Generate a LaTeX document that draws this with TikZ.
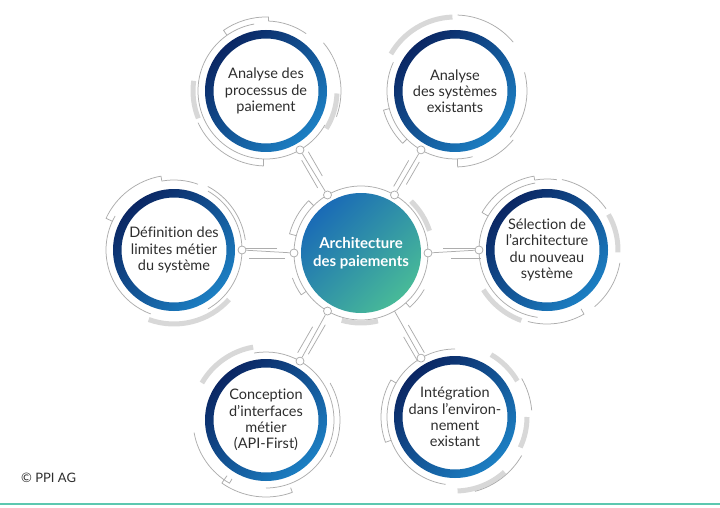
\documentclass[tikz,border=0pt]{standalone}
\usepackage{fontspec}
\setmainfont{Lato}[Ligatures=CommonOff]
\definecolor{textgrey}{HTML}{2E2E2E}
\definecolor{linegrey}{HTML}{ADADAD}
\definecolor{lightgrey}{HTML}{D8D8D8}
\definecolor{ringnavy}{HTML}{0A2663}
\definecolor{ringblue}{HTML}{1C7FC3}
\definecolor{discblue}{HTML}{1A6BB6}
\definecolor{discteal}{HTML}{48BA98}
\definecolor{footteal}{HTML}{5CC8B0}
\tikzset{
  satlabel/.style={align=center, font=\fontsize{14.5}{16.2}\selectfont, text=textgrey, inner sep=0pt},
  hublabel/.style={align=center, font=\bfseries\fontsize{15}{17.5}\selectfont, text=white, inner sep=0pt},
  trace/.style={draw=linegrey, line width=0.75pt},
  band/.style={draw=lightgrey, line width=5pt},
  dot/.style={circle, draw=linegrey, fill=white, line width=0.75pt, minimum size=8pt, inner sep=0pt},
}
\begin{document}
\begin{tikzpicture}[x=1pt, y=1pt, line join=round]
	\fill[white] (0,0) rectangle (720,507);
	\useasboundingbox (0,0) rectangle (720,507);
	\coordinate (c) at (361,254);
	\coordinate (s1) at (266,416);
	\coordinate (s2) at (455,416);
	\coordinate (s3) at (547,257);
	\coordinate (s4) at (174,257);
	\coordinate (s5) at (266,87);
	\coordinate (s6) at (455,90);
	% hub decoration
	\begin{scope}[shift={(c)}]
		\draw[trace] (0,0) circle (67);
		\draw[band] (18:72) arc (18:46:72);
		\draw[band] (254:70) arc (254:284:70);
		\draw[trace] (165:67) -- (165:74) arc (165:135:74) -- (135:67);
		\draw[trace] (215:67) -- (215:73) arc (215:200:73);
		\draw[trace] (330:73) arc (330:312:73) -- (312:67);
	\end{scope}
	% satellite decorations
	\begin{scope}[shift={(s1)}]
		\draw[trace] (100:68) arc (100:330:68);
		\draw[trace] (125:68) -- (125:74) arc (125:88:74) -- (88:70) arc (88:55:70);
		\draw[trace] (40:75) arc (40:-20:75);
		\draw[band] (172:73) arc (172:202:73);
		\draw[band] (-2:71) arc (-2:-32:71);
		\draw[trace] (205:75) arc (205:268:75) -- (268:68);
	\end{scope}
	\begin{scope}[shift={(s2)}]
		\draw[trace] (155:68) arc (155:285:68);
		\draw[band] (92:74) arc (92:150:74);
		\draw[trace] (88:76) arc (88:40:76);
		\draw[trace] (15:72) arc (15:-40:72);
		\draw[trace] (-40:76) arc (-40:-88:76) -- (-88:68);
		\draw[trace] (195:68) -- (195:74) arc (195:225:74) -- (225:68);
	\end{scope}
	\begin{scope}[shift={(s3)}]
		\draw[trace] (100:68) arc (100:262:68);
		\draw[band] (30:71) arc (30:-2:71);
		\draw[band] (212:75) arc (212:250:75);
		\draw[trace] (150:68) -- (150:75) arc (150:100:75) -- (100:71) arc (100:82:71);
		\draw[trace] (78:72) arc (78:35:72);
		\draw[trace] (255:74) arc (255:300:74) -- (300:68);
		\draw[trace] (-10:74) arc (-10:-50:74);
	\end{scope}
	\begin{scope}[shift={(s4)}]
		\draw[trace] (-60:68) arc (-60:60:68);
		\draw[trace] (150:68) arc (150:250:68);
		\draw[band] (250:74) arc (250:318:74);
		\draw[trace] (155:68) -- (155:75) arc (155:100:75) -- (100:70) arc (100:70:70);
		\draw[trace] (62:72) arc (62:8:72);
	\end{scope}
	\begin{scope}[shift={(s5)}]
		\draw[trace] (-90:68) arc (-90:100:68);
		\draw[band] (100:74) arc (100:150:74);
		\draw[trace] (190:73) arc (190:240:73) -- (240:68);
		\draw[trace] (235:68) -- (235:77) arc (235:290:77) -- (290:72);
		\draw[trace] (30:74) arc (30:-30:74);
	\end{scope}
	\begin{scope}[shift={(s6)}]
		\draw[trace] (90:68) arc (90:262:68);
		\draw[band] (60:72) arc (60:30:72);
		\draw[band] (0:72) arc (0:-25:72);
		\draw[band] (272:74) arc (272:312:74);
		\draw[trace] (150:68) -- (150:74) arc (150:200:74) -- (200:68);
		\draw[trace] (30:77) arc (30:5:77);
		\draw[trace] (-30:77) arc (-30:-75:77);
	\end{scope}
	% rings and hub disc
	\foreach \s in {s1,s2,s3,s4,s5,s6}
		\shade[even odd rule, top color=ringnavy, bottom color=ringblue, shading angle=45] (\s) circle (61) (\s) circle (52.5);
	\shade[top color=discblue, bottom color=discteal, shading angle=45] (c) circle (60);
	% traces beside the connectors
	\foreach \a/\p/\q in {120/78/110, 60/74/104, 0/82/116, 180/76/112, 240/80/114, 300/86/118}{
		\begin{scope}[shift={(c)}, rotate=\a]
			\draw[trace] (\p,5) -- (\q,5);
			\draw[trace] (\p+8,-5) -- (\q+4,-5);
		\end{scope}
	}
	% dots and connectors
	\foreach \i/\a in {1/120, 2/60, 3/0, 4/180, 5/240}{
		\node[dot] (c\i) at ([shift={(\a:67)}]c) {};
		\node[dot] (d\i) at ([shift={(\a+180:68)}]s\i) {};
		\draw[trace] (c\i) -- (d\i);
	}
	\coordinate (c6) at ([shift={(300:67)}]c);
	\node[dot] (d6) at ([shift={(120:68)}]s6) {};
	\draw[trace] (c6) -- (d6);
	% texts
	\node[hublabel] (t0) at (c) {Architecture\\des paiements};
	\node[satlabel] (t1) at (s1) {Analyse des\\processus de\\paiement};
	\node[satlabel] (t2) at (s2) {Analyse\\des systèmes\\existants};
	\node[satlabel] (t3) at (s3) {Sélection de\\l’architecture\\du nouveau\\système};
	\node[satlabel] (t4) at (s4) {Définition des\\limites métier\\du système};
	\node[satlabel] (t5) at (s5) {Conception\\d’interfaces\\métier\\(API-First)};
	\node[satlabel] (t6) at (s6) {Intégration\\dans l’environ-\\nement\\existant};
	\node[anchor=west, font=\fontsize{13}{15}\selectfont, text=textgrey, inner sep=0pt] (copy) at (21,29) {© PPI AG};
	\draw[footteal, line width=1.5pt] (0,3) -- (720,3);
\end{tikzpicture}
\end{document}
